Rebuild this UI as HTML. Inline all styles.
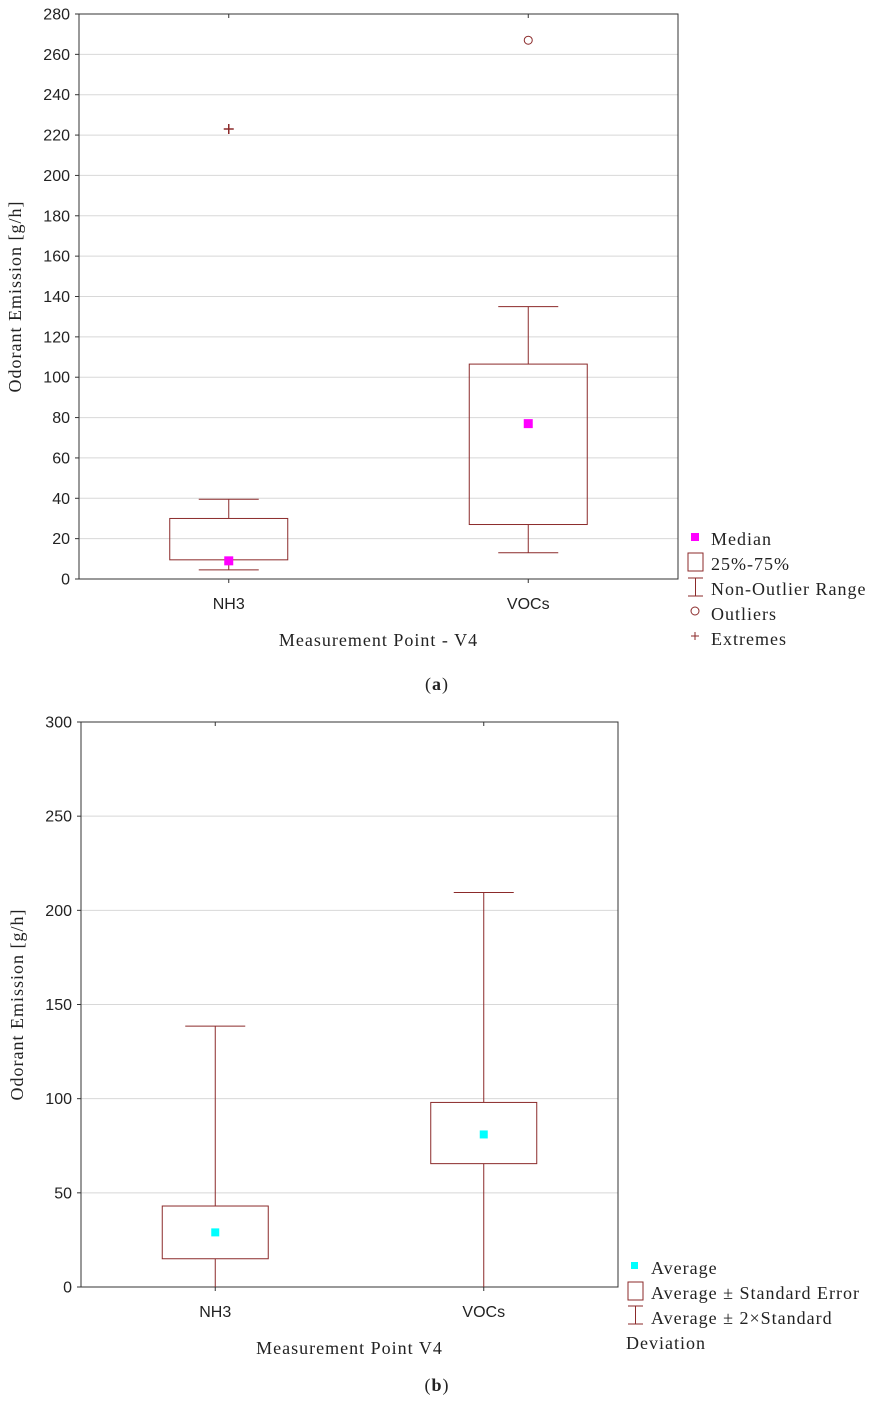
<!DOCTYPE html>
<html><head><meta charset="utf-8"><style>
body{margin:0;background:#fff;width:874px;height:1402px;overflow:hidden}
svg text{fill:#222}
.t{font-family:"Liberation Sans",sans-serif;font-size:16px}
.s{font-family:"Liberation Serif",serif;font-size:18px;letter-spacing:1px}
</style></head><body>
<svg id="c" width="874" height="1402" xmlns="http://www.w3.org/2000/svg"></svg>
<script>
// Chart (a) data
const catsA = ["NH3","VOCs"];
const medA = [9, 77];
const q1A = [9.5, 27];
const q3A = [30, 106.5];
const wLoA = [4.5, 13];
const wHiA = [39.5, 135];
const outA = [null, 267];
const extA = [223, null];
const ticksA = [0,20,40,60,80,100,120,140,160,180,200,220,240,260,280];
// Chart (b) data
const catsB = ["NH3","VOCs"];
const meanB = [29, 81];
const seLoB = [15, 65.5];
const seHiB = [43, 98];
const sdLoB = [-81, -47];
const sdHiB = [138.5, 209.5];
const ticksB = [0,50,100,150,200,250,300];

const NS="http://www.w3.org/2000/svg", svg=document.getElementById('c');
function el(t,a,p){const e=document.createElementNS(NS,t);for(const k in a)e.setAttribute(k,a[k]);(p||svg).appendChild(e);return e;}
const RED="#8b2a2a";

function frame(g,L,R,T,B,max,ticks,cats,ytitle,xtitle,lab,labY){
  const y=v=>B-(v/max)*(B-T);
  const x=i=>L+(R-L)*(0.25+0.5*i);
  ticks.forEach(v=>{
    if(v>0&&v<max){const l=el('line',{x1:L,x2:R,y1:y(v),y2:y(v),stroke:'#d8d8d8'},g);}
    el('line',{x1:L-4,x2:L,y1:y(v),y2:y(v),stroke:'#333'},g);
    const t=el('text',{x:L-9,y:y(v)+5.5,'text-anchor':'end',class:'t'},g);t.textContent=v;
    
  });
  cats.forEach((c,i)=>{
    el('line',{x1:x(i),x2:x(i),y1:B,y2:B+4,stroke:'#333'},g);
    el('line',{x1:x(i),x2:x(i),y1:T,y2:T+4,stroke:'#333'},g);
    const t=el('text',{x:x(i),y:B+30,'text-anchor':'middle',class:'t'},g);t.textContent=c;
    
  });
  const r=el('rect',{x:L,y:T,width:R-L,height:B-T,fill:'none',stroke:'#333'},g);
  
  const yt=el('text',{x:0,y:0,'text-anchor':'middle',class:'s',transform:`translate(${L-58},${(T+B)/2}) rotate(-90)`},g);
  yt.textContent=ytitle;
  const xt=el('text',{x:(L+R)/2,y:B+67,'text-anchor':'middle',class:'s'},g);
  xt.textContent=xtitle;
  const lb=el('text',{x:437,y:labY,'text-anchor':'middle',class:'s'},g);
  lb.innerHTML='(<tspan font-weight="bold">'+lab+'</tspan>)';
  return {x,y};
}
function box(g,x,y,i,lo,hi,wl,wh,bw,cw,clip){
  const gg=el('g',clip?{'clip-path':'url(#'+clip+')'}:{},g);
  
  el('line',{x1:x,x2:x,y1:y(wh),y2:y(hi),stroke:RED},gg);
  el('line',{x1:x,x2:x,y1:y(lo),y2:y(wl),stroke:RED},gg);
  el('line',{x1:x-cw/2,x2:x+cw/2,y1:y(wh),y2:y(wh),stroke:RED},gg);
  el('line',{x1:x-cw/2,x2:x+cw/2,y1:y(wl),y2:y(wl),stroke:RED},gg);
  el('rect',{x:x-bw/2,y:y(hi),width:bw,height:y(lo)-y(hi),fill:'none',stroke:RED},gg);
}

// Chart a
const ga=el('g',{});
const A=frame(ga,79,678,14,579,280,ticksA,catsA,'Odorant Emission [g/h]','Measurement Point - V4','a',690);
catsA.forEach((c,i)=>{
  box(ga,A.x(i),A.y,i,q1A[i],q3A[i],wLoA[i],wHiA[i],118,60);
  const m=el('rect',{x:A.x(i)-4.5,y:A.y(medA[i])-4.5,width:9,height:9,fill:'#ff00ff'},ga);
  
  if(outA[i]!=null){const o=el('circle',{cx:A.x(i),cy:A.y(outA[i]),r:4,fill:'none',stroke:RED},ga);}
  if(extA[i]!=null){const e=el('path',{d:`M${A.x(i)-5} ${A.y(extA[i])}h10M${A.x(i)} ${A.y(extA[i])-5}v10`,stroke:RED,'stroke-width':1.5},ga);}
});
// legend a
const la=el('g',{},ga);
el('rect',{x:691,y:533,width:8,height:8,fill:'#ff00ff'},la);
el('rect',{x:688,y:553,width:15,height:18,fill:'none',stroke:RED},la);
el('path',{d:'M688 578h15M695.5 578v18M688 596h15',stroke:RED,fill:'none'},la);
el('circle',{cx:695,cy:611,r:4,fill:'none',stroke:RED},la);
el('path',{d:'M691 636h8M695 632v8',stroke:RED},la);
[['Median',545],['25%-75%',570],['Non-Outlier Range',595],['Outliers',620],['Extremes',645]].forEach(([t,yy])=>{
  const e=el('text',{x:711,y:yy,class:'s'},la);e.textContent=t;});

// Chart b
const gb=el('g',{});
const cp=el('clipPath',{id:'cb'},gb);el('rect',{x:81,y:722,width:537,height:565},cp);
const B=frame(gb,81,618,722,1287,300,ticksB,catsB,'Odorant Emission [g/h]','Measurement Point V4','b',1391);
catsB.forEach((c,i)=>{
  box(gb,B.x(i),B.y,i,seLoB[i],seHiB[i],sdLoB[i],sdHiB[i],106,60,'cb');
  const m=el('rect',{x:B.x(i)-4,y:B.y(meanB[i])-4,width:8,height:8,fill:'#00ffff'},gb);
  
});
const lbb=el('g',{},gb);
el('rect',{x:631,y:1262,width:7,height:7,fill:'#00ffff'},lbb);
el('rect',{x:628,y:1282,width:15,height:18,fill:'none',stroke:RED},lbb);
el('path',{d:'M628 1306h15M635.5 1306v18M628 1324h15',stroke:RED,fill:'none'},lbb);
[['Average',651,1274],['Average ± Standard Error',651,1299],['Average ± 2×Standard',651,1324],['Deviation',626,1349]].forEach(([t,xx,yy])=>{
  const e=el('text',{x:xx,y:yy,class:'s'},lbb);e.textContent=t;});
</script>
</body></html>
